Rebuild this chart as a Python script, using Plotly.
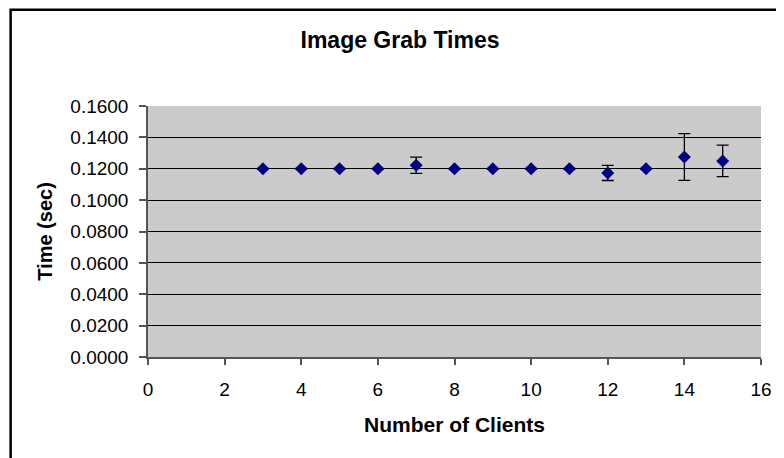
import plotly.graph_objects as go

clients = [3, 4, 5, 6, 7, 8, 9, 10, 11, 12, 13, 14, 15]
times = [0.1200, 0.1200, 0.1200, 0.1200, 0.1222, 0.1200, 0.1200, 0.1200, 0.1200, 0.1173, 0.1200, 0.1275, 0.1250]
errors = [0.0002, 0.0002, 0.0002, 0.0002, 0.0052, 0.0002, 0.0002, 0.0002, 0.0002, 0.0048, 0.0002, 0.0149, 0.0100]
y_ticks = [0.0, 0.02, 0.04, 0.06, 0.08, 0.10, 0.12, 0.14, 0.16]
x_ticks = [0, 2, 4, 6, 8, 10, 12, 14, 16]

# page body has an 8px default margin, so the figure is sized to fit the window
W, H = 776, 450
L, R, T, B = 140, 17, 98, 100.5
pw, ph = W - L - R, H - T - B

fig = go.Figure()
fig.add_trace(go.Scatter(
    x=clients, y=times, mode="markers",
    marker=dict(symbol="diamond", size=10, color="#000080"),
    error_y=dict(type="data", array=errors, visible=True, color="black", thickness=1.3, width=6),
    showlegend=False,
))

font = "Liberation Sans, Arial, sans-serif"
fig.update_layout(
    width=W, height=H,
    margin=dict(l=L, r=R, t=T, b=B, pad=0),
    paper_bgcolor="white",
    plot_bgcolor="#CBCBCB",
    font=dict(family=font, size=19, color="black"),
    title=dict(text="<b>Image Grab Times</b>", x=392 / W, xanchor="center",
               y=1 - 32 / H, yanchor="middle", yref="container",
               font=dict(size=23, family=font, color="black")),
    xaxis=dict(range=[0, 16], tickvals=x_ticks, ticktext=[str(v) for v in x_ticks],
               showgrid=False, zeroline=False, showline=True, linecolor="#555555", linewidth=1.5,
               ticks="outside", ticklen=6, tickcolor="#555555", tickwidth=1.5,
               ticklabelstandoff=8,
               title=dict(text="<b>Number of Clients</b>", font=dict(size=21), standoff=19)),
    yaxis=dict(range=[0, 0.16], tickvals=y_ticks, ticktext=[f"{v:.4f}" for v in y_ticks],
               showgrid=True, gridcolor="black", gridwidth=1, zeroline=False,
               showline=True, linecolor="#555555", linewidth=1.5,
               ticks="outside", ticklen=7, tickcolor="#555555", tickwidth=1.5,
               ticklabelstandoff=7,
               title=dict(text="<b>Time (sec)</b>", font=dict(size=20), standoff=12)),
)

def px_x(p):
    return (p - L) / pw

def px_y(p):
    return (H - B - p) / ph

fig.add_shape(type="rect", xref="paper", yref="paper",
              x0=px_x(1.3), x1=px_x(1400), y0=px_y(1200), y1=px_y(1.5),
              line=dict(color="black", width=2.5), fillcolor="rgba(0,0,0,0)", layer="above")

fig.write_html("out.html")
